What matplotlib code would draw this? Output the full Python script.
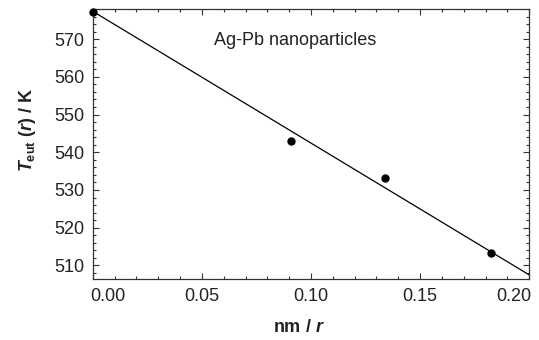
import matplotlib
matplotlib.use("Agg")
import matplotlib.pyplot as plt
import matplotlib.transforms as mtransforms
from matplotlib.ticker import MultipleLocator, FormatStrFormatter
import numpy as np

# data
inv_r = [0.0, 0.0908, 0.134, 0.1825]  # nm / r
t_eut = [577.2, 543.0, 533.2, 513.3]  # K
fit_x = [0.0, 0.21]
fit_slope = -349.7
fit_intercept = 577.4
xticks = [0.00, 0.05, 0.10, 0.15, 0.20]
yticks = [510, 520, 530, 540, 550, 560, 570]

plt.rcParams["font.family"] = ["Liberation Sans", "DejaVu Sans"]
plt.rcParams["mathtext.fontset"] = "custom"
plt.rcParams["mathtext.rm"] = "Liberation Sans:bold"
plt.rcParams["mathtext.it"] = "Liberation Sans:italic:bold"
plt.rcParams["mathtext.bf"] = "Liberation Sans:bold"

fig = plt.figure(figsize=(5.39, 3.40), dpi=100)
ax = fig.add_axes([0.172, 0.1785, 0.810, 0.795])

fx = np.array(fit_x)
ax.plot(fx, fit_intercept + fit_slope * fx, color="black", lw=0.9)
ax.plot(inv_r, t_eut, "o", color="black", ms=5, clip_on=False, zorder=3)

ax.set_xlim(0.0, 0.20)
ax.set_ylim(506.3, 578.0)
ax.set_xticks(xticks)
ax.set_yticks(yticks)
ax.xaxis.set_major_formatter(FormatStrFormatter("%.2f"))
ax.xaxis.set_minor_locator(MultipleLocator(0.01))
ax.yaxis.set_minor_locator(MultipleLocator(2))

for s in ax.spines.values():
    s.set_color("#333333")
    s.set_linewidth(0.9)
ax.tick_params(which="both", direction="in", top=True, right=True,
               colors="#333333", labelcolor="#222222", labelsize=13, width=0.8)
ax.tick_params(which="major", length=4.5, pad=6)
ax.tick_params(which="minor", length=2.5)

ax.set_xlabel(r"nm / $\mathit{r}$", fontsize=13, fontweight="bold", color="#222222")
ax.set_ylabel(r"$\mathit{T}_{\mathrm{eut}}$ ($\mathit{r}$) / K", fontsize=13,
              fontweight="bold", color="#222222")
ax.xaxis.set_label_coords(0.4725, -0.148)
ax.yaxis.set_label_coords(-0.125, 0.552)

ax.text(0.278, 0.867, "Ag-Pb nanoparticles", transform=ax.transAxes,
        fontsize=13, color="#222222", ha="left", va="baseline")

fig.canvas.draw()
labels = ax.get_xticklabels()
shift_l = mtransforms.ScaledTranslation(0.15, 0, fig.dpi_scale_trans)
shift_r = mtransforms.ScaledTranslation(-0.15, 0, fig.dpi_scale_trans)
labels[0].set_transform(labels[0].get_transform() + shift_l)
labels[-1].set_transform(labels[-1].get_transform() + shift_r)

fig.savefig("out.png", dpi=100)
